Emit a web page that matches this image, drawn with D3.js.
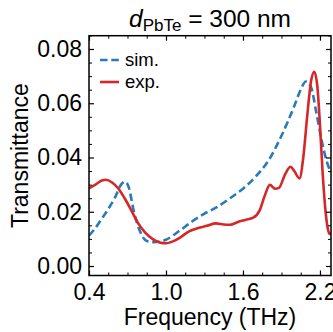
<!DOCTYPE html>
<html>
<head>
<meta charset="utf-8">
<script src="https://cdn.jsdelivr.net/npm/d3@7"></script>
<style>
html,body{margin:0;padding:0;background:#fff;}
svg{display:block;font-family:"Liberation Sans",Arial,sans-serif;}
</style>
</head>
<body>
<svg id="chart" width="333" height="332"></svg>
<script>
// ---- data ----
const simFreq = [0.40,0.45,0.50,0.55,0.60,0.65,0.68,0.71,0.75,0.80,0.85,0.90,0.95,1.00,1.10,1.20,1.30,1.40,1.50,1.60,1.70,1.80,1.90,2.00,2.05,2.09,2.13,2.17,2.21,2.25,2.285];
const simT    = [0.0112,0.0140,0.0175,0.0210,0.0250,0.0300,0.0311,0.0290,0.0200,0.0125,0.0092,0.0088,0.0090,0.0097,0.0128,0.0163,0.0193,0.0218,0.0250,0.0285,0.0330,0.0390,0.0480,0.0590,0.0650,0.0680,0.0660,0.0570,0.0470,0.0390,0.0345];
const expFreq = [0.40,0.45,0.50,0.53,0.58,0.63,0.68,0.73,0.78,0.84,0.90,0.95,1.00,1.05,1.11,1.18,1.25,1.32,1.39,1.45,1.50,1.56,1.62,1.68,1.73,1.77,1.81,1.85,1.88,1.93,1.97,2.00,2.04,2.07,2.10,2.13,2.155,2.18,2.20,2.22,2.24,2.26,2.275,2.285];
const expT    = [0.0286,0.0300,0.0315,0.0318,0.0308,0.0285,0.0248,0.0205,0.0160,0.0122,0.0098,0.0087,0.0084,0.0090,0.0105,0.0128,0.0140,0.0148,0.0157,0.0153,0.0152,0.0162,0.0170,0.0178,0.0205,0.0260,0.0299,0.0285,0.0288,0.0340,0.0366,0.0350,0.0323,0.0400,0.0550,0.0680,0.0716,0.0660,0.0520,0.0350,0.0220,0.0140,0.0118,0.0125];
const xTicks = [0.4,1.0,1.6,2.2];
const yTicks = [0.00,0.02,0.04,0.06,0.08];
const legendLabels = ["sim.","exp."];

// ---- layout ----
const svg = d3.select("#chart");
const L = 89, R = 331, T = 35.7, B = 275.5;
const x = d3.scaleLinear().domain([0.4, 2.286]).range([L, R]);
const y = d3.scaleLinear().domain([-0.0035, 0.0849]).range([B, T]);
const blue = "#2a7ab9", red = "#d62728";
const font = "23px";

// clip
svg.append("clipPath").attr("id","clip").append("rect")
  .attr("x",L).attr("y",T).attr("width",R-L).attr("height",B-T);

const line = d3.line().x(d=>x(d[0])).y(d=>y(d[1])).curve(d3.curveMonotoneX);
const g = svg.append("g").attr("clip-path","url(#clip)");
g.append("path").datum(simFreq.map((f,i)=>[f,simT[i]]))
  .attr("d",line).attr("fill","none").attr("stroke",blue)
  .attr("stroke-width",2.6).attr("stroke-dasharray","7.5,3.8");
g.append("path").datum(expFreq.map((f,i)=>[f,expT[i]]))
  .attr("d",line).attr("fill","none").attr("stroke",red)
  .attr("stroke-width",2.6);

// axes
const xMinor = d3.range(0.4, 2.29, 0.15).filter(v=>!xTicks.some(t=>Math.abs(t-v)<1e-6));
const yMinor = d3.range(0, 0.0851, 0.005).filter(v=>!yTicks.some(t=>Math.abs(t-v)<1e-6));

function addAxis(axisFn, scale, ticks, minor, transform, labels){
  const a = svg.append("g").attr("transform",transform);
  a.call(axisFn(scale).tickValues(ticks).tickSize(-5).tickPadding(9)
     .tickFormat(labels ? d3.format(labels) : ()=>""));
  a.select(".domain").remove();
  a.selectAll(".tick line").attr("stroke","#000").attr("stroke-width",1.2);
  a.selectAll(".tick text").attr("font-size",font).attr("fill","#000")
    .attr("font-family",'"Liberation Sans",Arial,sans-serif');
  const m = svg.append("g").attr("transform",transform);
  m.call(axisFn(scale).tickValues(minor).tickSize(-3).tickFormat(()=>""));
  m.select(".domain").remove();
  m.selectAll(".tick line").attr("stroke","#000").attr("stroke-width",1);
  return a;
}
const xb = addAxis(d3.axisBottom, x, xTicks, xMinor, `translate(0,${B})`, ".1f");
xb.selectAll(".tick text").attr("dy","0.71em").attr("y",8);
addAxis(d3.axisTop, x, xTicks, xMinor, `translate(0,${T})`, null);
const yl = addAxis(d3.axisLeft, y, yTicks, yMinor, `translate(${L},0)`, ".2f");
yl.selectAll(".tick text").attr("x",-7);
addAxis(d3.axisRight, y, yTicks, yMinor, `translate(${R},0)`, null);

// frame
svg.append("rect").attr("x",L).attr("y",T).attr("width",R-L).attr("height",B-T)
  .attr("fill","none").attr("stroke","#000").attr("stroke-width",1.5);

// axis labels
svg.append("text").attr("x",(L+R)/2).attr("y",325).attr("text-anchor","middle")
  .attr("font-size",font).attr("fill","#000").text("Frequency (THz)");
svg.append("text").attr("transform",`translate(28,${(T+B)/2}) rotate(-90)`)
  .attr("text-anchor","middle").attr("font-size",font).attr("fill","#000").text("Transmittance");

// title
const title = svg.append("text").attr("x",(L+R)/2).attr("y",27).attr("text-anchor","middle")
  .attr("font-size","24.5px").attr("fill","#000");
title.append("tspan").attr("font-style","italic").text("d");
title.append("tspan").attr("font-size","17px").attr("dy",4).text("PbTe");
title.append("tspan").attr("dy",-4).text(" = 300 nm");

// legend
const leg = svg.append("g");
const legColors = [blue, red], legDash = ["7.5,3.8", null];
legendLabels.forEach((lab,i)=>{
  const yy = 60 + i*22;
  leg.append("line").attr("x1",100).attr("x2",119).attr("y1",yy).attr("y2",yy)
    .attr("stroke",legColors[i]).attr("stroke-width",2.6)
    .attr("stroke-dasharray",legDash[i]);
  leg.append("text").attr("x",125).attr("y",yy+6).attr("font-size","18.5px")
    .attr("fill","#000").text(lab);
});
</script>
</body>
</html>
